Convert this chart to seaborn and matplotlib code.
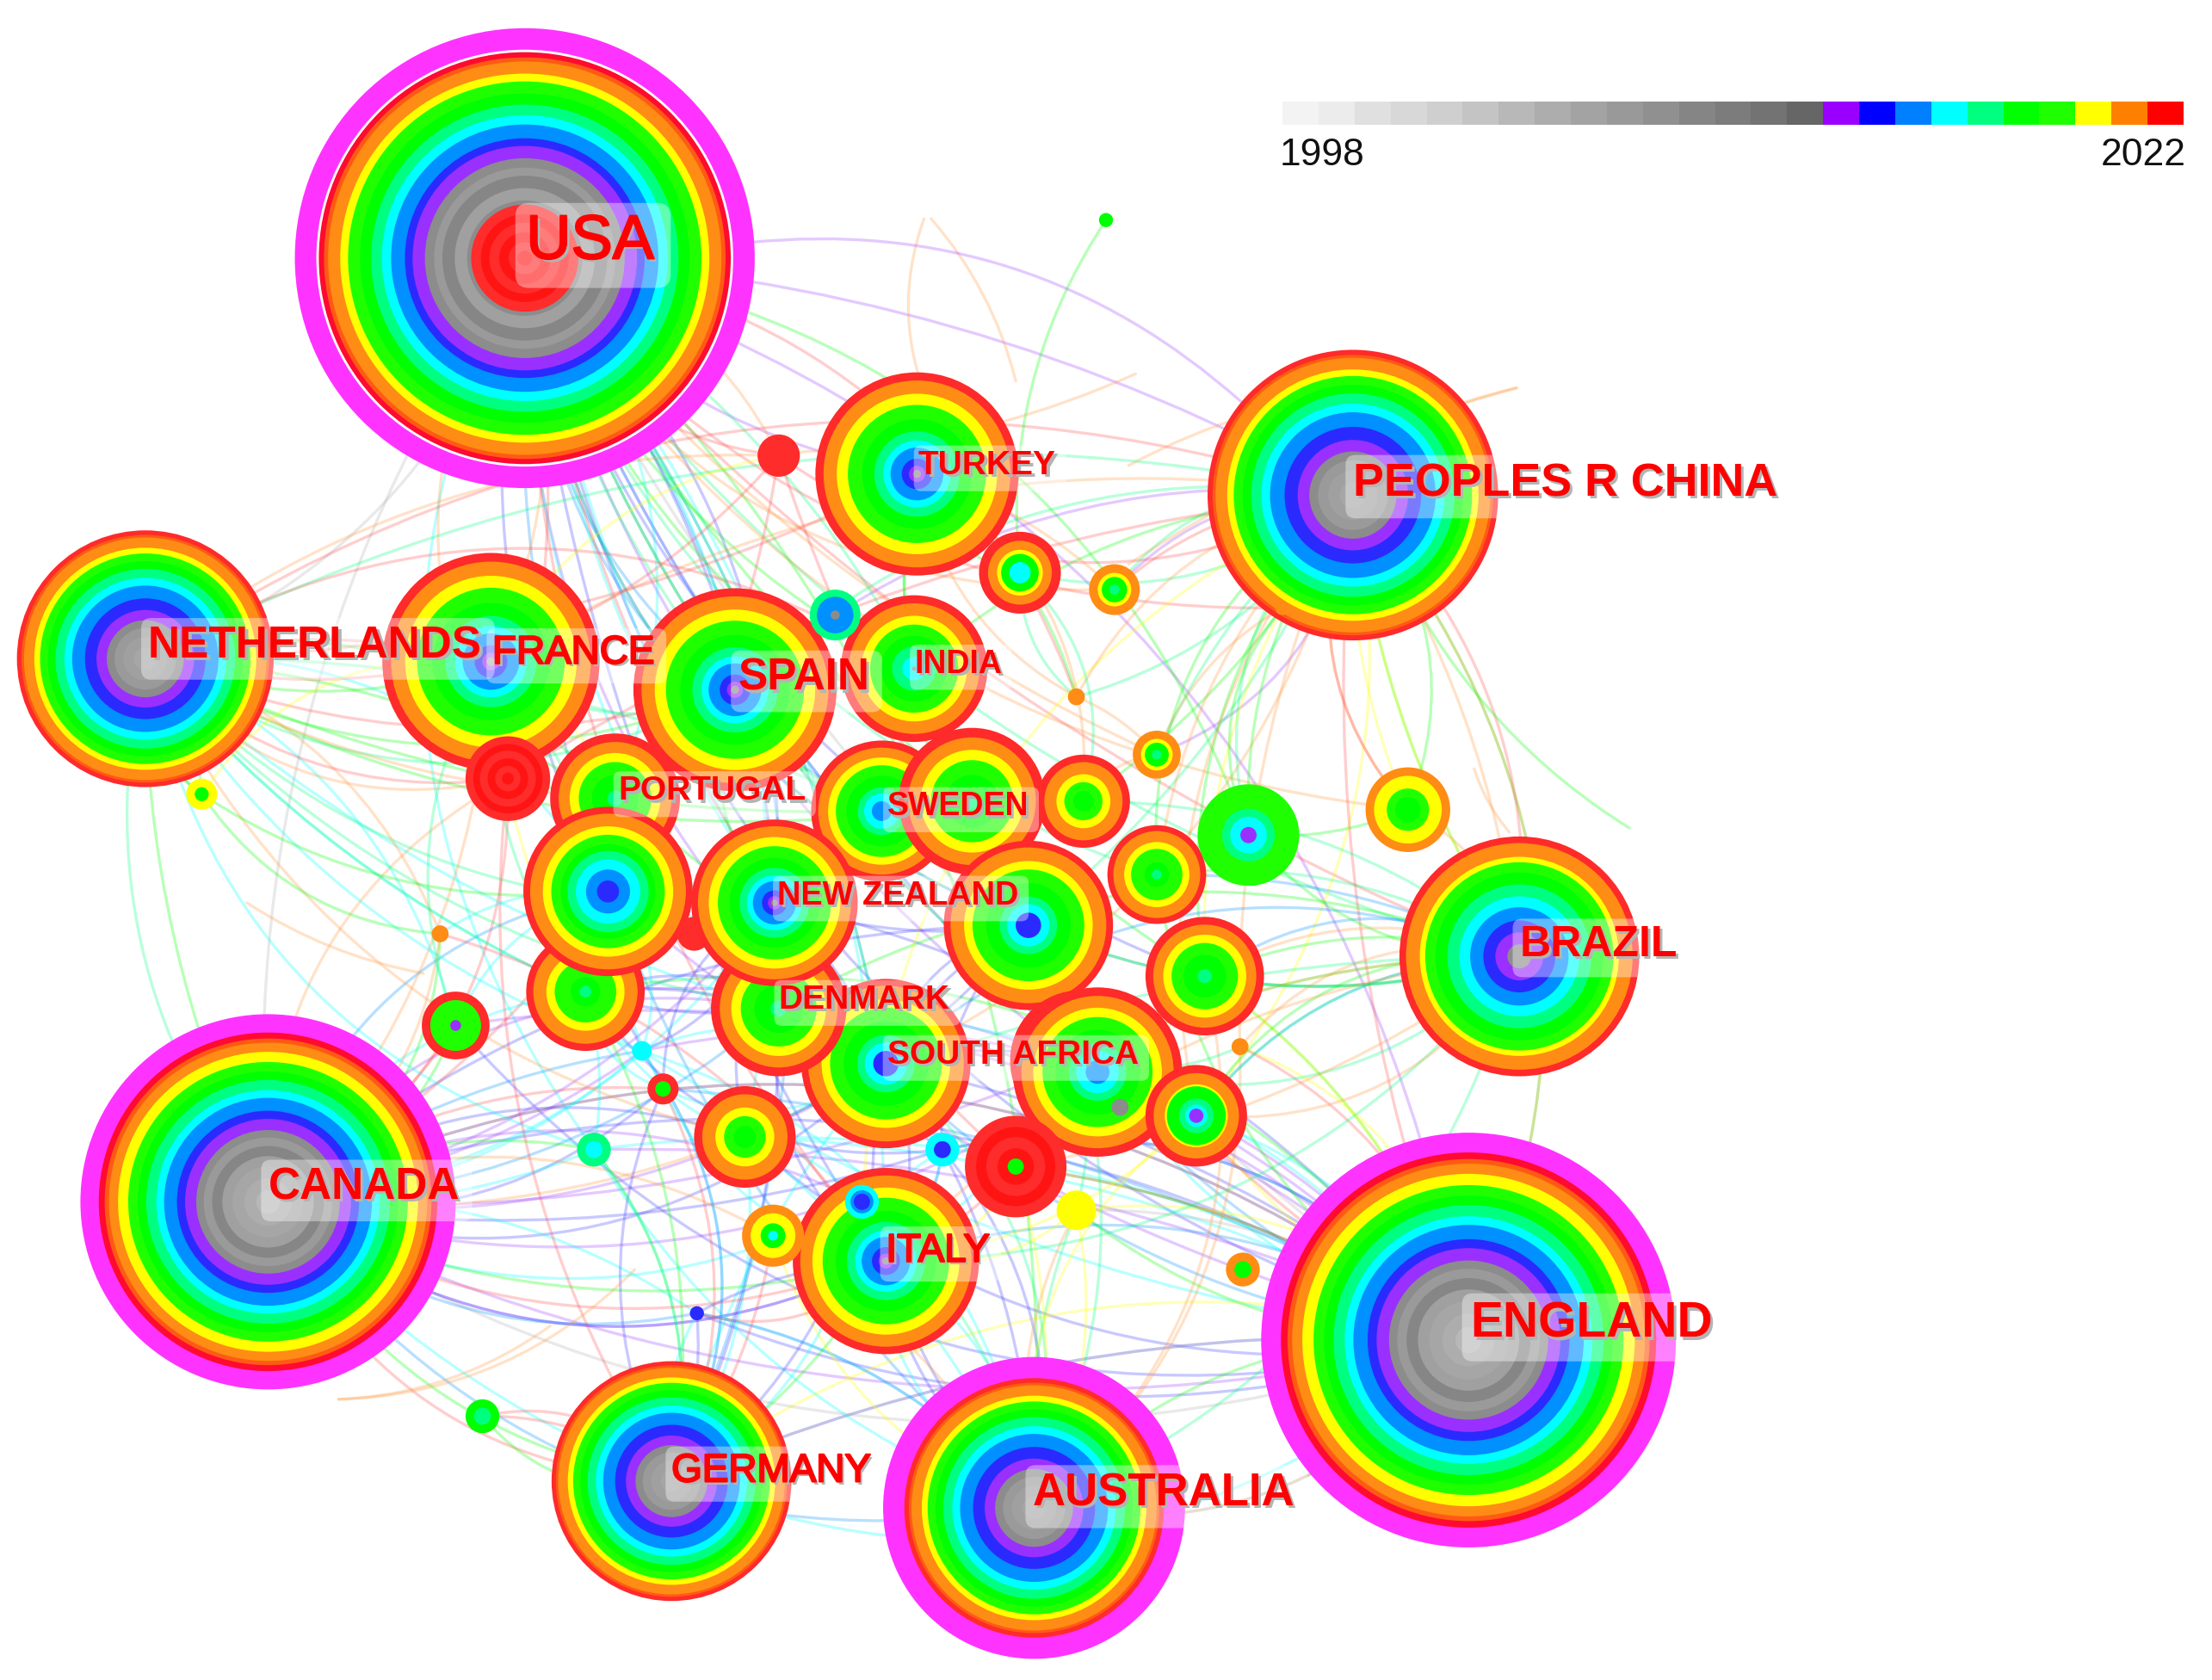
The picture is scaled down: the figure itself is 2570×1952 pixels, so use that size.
import numpy as np
import pandas as pd
import seaborn as sns
import matplotlib
matplotlib.use("Agg")
import matplotlib.pyplot as plt
import matplotlib.patheffects as pe
from matplotlib.colors import ListedColormap
from matplotlib.patches import FancyArrowPatch

# scale of the coordinates below vs the saved image
PX = 2570 / 1568

years = list(range(1998, 2023))
year_colours = ["#f3f3f3", "#ececec", "#e0e0e0", "#d8d8d8", "#cfcfcf", "#c4c4c4", "#b8b8b8", "#adadad",
                "#a3a3a3", "#999999", "#909090", "#858585", "#7c7c7c", "#737373", "#666666",
                "#9900ff", "#0000ff", "#0080ff", "#00ffff", "#00ff80", "#00ff00", "#20ff00",
                "#ffff00", "#ff8000", "#ff0000"]

# nodes, drawn in this order
node_id = ["usa", "eng", "can", "aus", "chn", "bra", "ned", "fra", "esp", "ind", "tur", "ger",
           "por", "n1", "swe", "n5", "n4", "den", "n2", "n3", "n38", "nzl", "n21", "zaf", "ita",
           "n6", "n7", "n8", "n9", "n10", "n11", "n12", "n13", "n14", "n15", "n16", "n17",
           "n18", "n19", "n20", "usa_c", "n22", "n23", "n24", "n25", "n26", "n27", "n28",
           "n29", "n30", "n31", "n32", "n33", "n34", "n35", "n36", "n37", "n39"]
node_x = [372, 1041, 190, 733, 959, 1077, 103, 348, 521, 648, 650, 476,
          436, 625, 689, 415, 628, 552, 431, 729, 492, 549, 766, 778, 628,
          768, 820, 854, 848, 528, 323, 723, 790, 552, 592, 360, 143,
          820, 885, 998, 372, 909, 763, 312, 879, 784, 455, 470,
          421, 668, 720, 763, 611, 548, 881, 494, 342, 794]
node_y = [183, 950, 852, 1069, 351, 678, 467, 469, 489, 474, 336, 1050,
          566, 575, 568, 703, 754, 715, 632, 656, 662, 640, 752, 760, 894,
          568, 620, 692, 791, 806, 727, 406, 418, 323, 436, 552, 563,
          535, 592, 574, 183, 431, 494, 662, 742, 156, 745, 772,
          815, 815, 827, 858, 852, 876, 900, 931, 1004, 785]
node_r = [146, 133, 120, 92, 103, 85, 91, 77, 72, 52, 72, 85,
          46, 50, 52, 42, 60, 48, 60, 60, 12, 59, 50, 60, 66,
          33, 35, 42, 36, 36, 24, 29, 18, 15, 18, 30, 11,
          17, 36, 30, 38, 5, 6, 6, 6, 5, 7, 11,
          12, 12, 36, 14, 12, 22, 12, 5, 12, 6]
node_burst = {"usa": 163, "eng": 147, "can": 133, "aus": 107}
node_profile = ["usa", "y98", "y98", "y03", "y03", "y11", "y03", "y13", "y13", "y15", "y13", "y03",
                "y16", "y15b", "y16", "y17", "y14b", "y16", "y14", "y14b", "flat_r", "y13", "y15b", "y15b", "y13",
                "y18", "y17", "y16", "y_v", "y18", "y_v2", "y_c", "o_g", "flat_r", "s_a", "reds", "y_g",
                "o_g", "g_v", "o_y_g", "reds", "flat_o", "flat_o", "flat_o", "flat_o", "flat_g", "flat_c", "r_g",
                "s_c", "c_b", "reds_g", "flat_y", "c_b2", "o_y_c", "o_g2", "flat_b", "g_s", "flat_gr"]

ring_profiles = {
    "usa": [("gap", 1.012), ("r3", 1), ("ro", .975), ("2021", .955), ("2020", .896), ("2019", .858), ("2018", .80),
            ("2017", .746), ("2016", .694), ("2015", .649), ("2014", .582), ("2013", .545), ("g1", .485),
            ("g2", .44), ("g4", .40), ("g3", .34), ("g1", .28)],
    "y98": [("r3", 1), ("ro", .965), ("2021", .94), ("2020", .886), ("2019", .826), ("2018", .77), ("2017", .72),
            ("2016", .66), ("2015", .614), ("2014", .538), ("2013", .49), ("g1", .424), ("g2", .38),
            ("g4", .33), ("g3", .27), ("g5", .21), ("g6", .14), ("g7", .07)],
    "y03": [("2022", 1), ("ro", .965), ("2021", .945), ("2020", .865), ("2019", .82), ("2018", .76), ("2017", .70),
            ("2016", .63), ("2015", .57), ("2014", .47), ("2013", .38), ("g1", .30), ("g2", .24),
            ("g3", .17), ("g5", .09)],
    "y11": [("2022", 1), ("2021", .945), ("2020", .83), ("2019", .785), ("2018", .70), ("2017", .60),
            ("2016", .50), ("2015", .41), ("2014", .30), ("2013", .20), ("g1", .10)],
    "y13": [("2022", 1), ("2021", .92), ("2020", .79), ("2019", .68), ("2018", .54), ("2017", .42),
            ("2016", .33), ("2015", .26), ("2014", .15), ("2013", .08), ("g1", .04)],
    "y14": [("2022", 1), ("2021", .92), ("2020", .77), ("2019", .67), ("2018", .56), ("2017", .48),
            ("2016", .38), ("2015", .26), ("2014", .13)],
    "y14b": [("2022", 1), ("2021", .92), ("2020", .76), ("2019", .66), ("2018", .50), ("2017", .34),
             ("2016", .25), ("2014", .15)],
    "y15": [("2022", 1), ("2021", .89), ("2020", .72), ("2019", .60), ("2018", .45), ("2017", .30),
            ("2016", .16), ("g1", .03)],
    "y15b": [("2022", 1), ("2021", .90), ("2020", .76), ("2019", .65), ("2018", .50), ("2017", .34),
             ("2016", .25), ("2015", .14)],
    "y16": [("2022", 1), ("2021", .87), ("2020", .70), ("2019", .56), ("2018", .36), ("2017", .12)],
    "y17": [("2022", 1), ("2021", .88), ("2020", .66), ("2019", .52), ("2018", .25), ("2017", .10)],
    "y18": [("2022", 1), ("2021", .84), ("2020", .58), ("2019", .41), ("2018", .22)],
    "y_v": [("2022", 1), ("2021", .84), ("2020", .62), ("2018", .58), ("2017", .34), ("2016", .22), ("2013", .14)],
    "y_v2": [("2022", 1), ("2019", .75), ("2013", .16)],
    "y_c": [("2022", 1), ("2021", .78), ("2020", .56), ("2018", .46), ("2016", .26)],
    "o_g": [("2021", 1), ("2020", .66), ("2018", .50), ("2017", .20)],
    "o_g2": [("2021", 1), ("2018", .50)],
    "o_y_g": [("2021", 1), ("2020", .80), ("2019", .50), ("2018", .30)],
    "o_y_c": [("2021", 1), ("2020", .72), ("2018", .40), ("2016", .16)],
    "y_g": [("2020", 1), ("2018", .45)],
    "g_v": [("2019", 1), ("2017", .52), ("2016", .36), ("2013", .16)],
    "s_a": [("2017", 1), ("2015", .72), ("g1", .18)],
    "reds": [("r2", 1), ("r1", .82), ("r2", .66), ("r1", .48), ("r2", .30), ("r1", .14)],
    "reds_g": [("r2", 1), ("r1", .78), ("r2", .58), ("r1", .36), ("2018", .16)],
    "r_g": [("2022", 1), ("2018", .50)],
    "s_c": [("2017", 1), ("2016", .50)],
    "c_b": [("2016", 1), ("2014", .50)],
    "c_b2": [("2016", 1), ("2015", .68), ("2014", .48)],
    "g_s": [("2018", 1), ("2017", .50)],
    "flat_r": [("r2", 1)],
    "flat_o": [("2021", 1)],
    "flat_g": [("2018", 1)],
    "flat_c": [("2016", 1)],
    "flat_y": [("2020", 1)],
    "flat_b": [("2014", 1)],
    "flat_gr": [("g1", 1)],
}

# links: source, year of first co-occurrence, targets
links = [
    ("usa", 2013, ["chn", "tur", "n4", "eng", "zaf", "n21"]),
    ("usa", 2014, ["n2", "nzl", "n3", "ita", "den", "n8", "eng"]),
    ("usa", 2015, ["esp", "n1", "n4", "n9", "aus", "ger", "zaf"]),
    ("usa", 2016, ["por", "nzl", "den", "n10", "n29", "n30", "ita"]),
    ("usa", 2017, ["esp", "swe", "n7", "n3", "n4", "bra"]),
    ("usa", 2018, ["ind", "n6", "n19", "n8", "n9", "aus"]),
    ("usa", 2021, ["n14", "n16", "n18", "fra", "n20", "n13"]),
    ("usa", 2022, ["n14", "n16", "n31", "n22", "n23", "bra", "ita"]),
    ("usa", 2010, ["eng", "can", "ned"]),
    ("eng", 2013, ["can", "n11", "n27", "n2", "den", "n5", "aus", "n29"]),
    ("eng", 2014, ["can", "n11", "n4", "nzl", "n10", "n30", "ger", "n36"]),
    ("eng", 2015, ["can", "n28", "n4", "ita", "n30", "n21"]),
    ("eng", 2016, ["n27", "n29", "den", "ger", "n10", "n9", "n3"]),
    ("eng", 2018, ["n8", "n7", "chn", "n31", "n32", "aus", "n5"]),
    ("eng", 2020, ["n32", "n25", "n9", "n8", "ger", "aus"]),
    ("eng", 2010, ["aus", "ger", "n32", "can"]),
    ("eng", 2022, ["n31", "n14", "n25", "can"]),
    ("can", 2013, ["n4", "zaf", "den", "n27", "nzl", "n33", "ita", "n21"]),
    ("can", 2014, ["n10", "n4", "n30", "n3", "n28", "ita"]),
    ("can", 2015, ["aus", "n27", "den", "n36", "n2"]),
    ("can", 2016, ["n29", "n27", "n5", "n30", "ger", "n36", "nzl"]),
    ("can", 2018, ["n29", "n11", "n24", "ned", "ita", "ger"]),
    ("can", 2021, ["n24", "n16", "n10", "fra", "n34"]),
    ("can", 2022, ["n16", "n11", "n28", "n14", "ger"]),
    ("aus", 2014, ["ita", "n36", "n30", "n4", "n30"]),
    ("aus", 2016, ["n36", "n33", "n27", "n10", "n29", "ita"]),
    ("aus", 2017, ["n3", "n4", "n32", "n33", "bra"]),
    ("aus", 2020, ["n9", "n31", "n32", "n34"]),
    ("aus", 2021, ["n34", "n32", "n25", "n8"]),
    ("chn", 2013, ["n15", "n13", "n18"]),
    ("chn", 2017, ["n12", "n13", "n18", "n23", "esp", "n19", "n3", "ned"]),
    ("chn", 2018, ["n7", "n6", "n19", "n8", "n20", "bra", "ind", "n22"]),
    ("chn", 2020, ["bra", "n8", "n9", "n33", "n20"]),
    ("chn", 2021, ["n22", "n23", "n20", "bra", "n7", "n9", "eng", "n25", "fra", "n4"]),
    ("chn", 2022, ["ned", "n14", "n16", "n13", "bra", "n20", "eng"]),
    ("bra", 2015, ["n8", "n7", "n3", "n9", "n4"]),
    ("bra", 2017, ["n8", "n7", "n9", "n21", "n10", "n6", "ita"]),
    ("bra", 2018, ["n8", "n19", "n9", "n21", "n3", "den"]),
    ("bra", 2021, ["n8", "n25", "n31", "ita", "n20", "n9", "n21"]),
    ("ned", 2016, ["n2", "n5", "n27", "n11", "n29", "den"]),
    ("ned", 2017, ["n5", "n17", "nzl", "esp", "n1", "den", "can"]),
    ("ned", 2018, ["fra", "esp", "por", "n1", "swe", "n4", "n17"]),
    ("ned", 2021, ["n24", "n16", "por", "n14", "n10"]),
    ("ned", 2022, ["n14", "fra", "esp", "n16", "ind", "tur"]),
    ("ger", 2014, ["n36", "n33", "n28", "n27", "den"]),
    ("ger", 2016, ["n36", "n29", "n27", "n4", "n10", "n33"]),
    ("ger", 2018, ["n29", "n37", "ita", "n5"]),
    ("ger", 2022, ["n37", "n34", "n16", "n28"]),
    ("ita", 2014, ["n33", "n30", "n4", "den", "n36"]),
    ("ita", 2016, ["n30", "n28", "n10", "n21"]),
    ("ita", 2020, ["n32", "n31", "n34", "n9"]),
    ("ita", 2022, ["n36", "n31", "n24", "can"]),
    ("n4", 2014, ["nzl", "n3", "n30", "n5", "n21"]),
    ("n4", 2016, ["den", "n27", "n28", "n30", "n2"]),
    ("n5", 2014, ["n27", "n30", "den", "n4"]),
    ("n5", 2016, ["n28", "n29", "n10", "n27"]),
    ("nzl", 2014, ["n3", "n10", "n27", "n28"]),
    ("n3", 2014, ["n21", "n30", "n4", "n10"]),
    ("n2", 2016, ["n11", "n27", "n28", "n24"]),
    ("tur", 2018, ["n12", "ind", "n23", "n3"]),
    ("tur", 2021, ["n13", "n14", "n23", "n6"]),
    ("n26", 2018, ["n12"]),
    ("n21", 2017, ["n9", "n8", "n32", "n25"]),
    ("n19", 2018, ["n22", "n20", "n7"]),
    ("n18", 2021, ["n23", "n22", "n6"]),
    ("n17", 2018, ["n2", "n24", "ned"]),
    ("fra", 2020, ["n14", "n17", "n5", "por"]),
    ("fra", 2017, ["esp", "n2", "n5", "n11"]),
    ("esp", 2018, ["ind", "n1", "n15", "nzl"]),
    ("n37", 2022, ["ger"]),
    ("n12", 2017, ["n23", "n6"]),
]

# arcs whose far end has no drawn node
arc_x0 = [1010, 800, 655, 660, 240, 240, 175, 530, 600, 1045, 1000, 980, 1110]
arc_y0 = [440, 400, 155, 155, 992, 992, 640, 172, 320, 545, 300, 275, 600]
arc_x1 = [1155, 1075, 660, 720, 390, 450, 300, 880, 805, 1070, 1075, 800, 1150]
arc_y1 = [587, 275, 290, 270, 940, 900, 690, 285, 265, 590, 275, 330, 640]
arc_year = [2018, 2021, 2021, 2021, 2021, 2021, 2021, 2013, 2021, 2021, 2021, 2021, 2018]
arc_rad = [0.12, -0.08, 0.2, -0.12, 0.15, 0.2, 0.1, -0.22, 0.08, 0.1, -0.05, 0.1, 0.1]

label_text = ["USA", "PEOPLES R CHINA", "ENGLAND", "CANADA", "AUSTRALIA", "NETHERLANDS", "BRAZIL", "SPAIN",
              "FRANCE", "GERMANY", "ITALY", "TURKEY", "INDIA", "PORTUGAL", "SWEDEN", "NEW ZEALAND",
              "DENMARK", "SOUTH AFRICA"]
label_x = [373, 959, 1042, 190, 732, 105, 1077, 523, 349, 476, 628, 651, 648, 438, 629, 551, 552, 629]
label_y = [172, 343, 939, 842, 1059, 458, 670, 481, 463, 1043, 887, 330, 471, 561, 572, 635, 709, 748]
label_size = [52, 38.7, 41, 37, 38, 37, 36, 37, 33, 33, 33, 28, 27, 28, 27, 27.4, 28, 28]
label_weight = ["normal", "bold", "bold", "bold", "bold", "bold", "bold", "bold", "normal", "normal", "normal",
                "bold", "bold", "bold", "bold", "bold", "bold", "bold"]

sns.set_theme(style="white")
plt.rcParams["font.family"] = ["Liberation Sans", "DejaVu Sans"]

palette = {str(y): c for y, c in zip(years, year_colours)}
palette.update({"2022": "#ff2a2a", "2021": "#ff8c14", "2014": "#2a2aff", "2013": "#9a30ff", "2015": "#0090ff",
                "burst": "#ff33ff", "gap": "#ffffff", "r1": "#ff1414", "r2": "#ff2c2c", "r3": "#ff0a30",
                "ro": "#ff5a14", "g1": "#8c8c8c", "g2": "#9a9a9a", "g3": "#a0a0a0", "g4": "#868686",
                "g5": "#a6a6a6", "g6": "#adadad", "g7": "#b8b8b8"})
link_colours = dict(palette)
link_colours.update({"2010": "#b0b0b0", "2022": "#ff5050", "2021": "#ff9a40", "2014": "#4040ff", "2013": "#a040ff"})

fig = plt.figure(figsize=(25.7, 19.52), dpi=100)
ax = fig.add_axes([0, 0, 1, 1])
ax.set_xlim(0, 1568)
ax.set_ylim(1191, 0)
ax.axis("off")

# links under the nodes
pos = dict(zip(node_id, zip(node_x, node_y)))
for i, (src, year, targets) in enumerate(links):
    for j, tgt in enumerate(targets):
        rad = (0.12 + 0.06 * ((i + j) % 4)) * (1 if (i + 2 * j) % 3 else -1)
        ax.add_patch(FancyArrowPatch(pos[src], pos[tgt], arrowstyle="-", connectionstyle=f"arc3,rad={rad}",
                                     color=link_colours[str(year)], lw=2.4, alpha=0.28, shrinkA=0, shrinkB=0,
                                     zorder=1))
for x0, y0, x1, y1, year, rad in zip(arc_x0, arc_y0, arc_x1, arc_y1, arc_year, arc_rad):
    ax.add_patch(FancyArrowPatch((x0, y0), (x1, y1), arrowstyle="-", connectionstyle=f"arc3,rad={rad}",
                                 color=link_colours[str(year)], lw=2.4, alpha=0.28, shrinkA=0, shrinkB=0, zorder=1))

# each node is a stack of rings, biggest first
rows = []
for nid, x, y, r, prof in zip(node_id, node_x, node_y, node_r, node_profile):
    if nid in node_burst:
        rows.append((x, y, node_burst[nid], "burst"))
    for ring, frac in ring_profiles[prof]:
        rows.append((x, y, r * frac, ring))
rings = pd.DataFrame(rows, columns=["x", "y", "radius", "ring"])
ring_sizes = (2 * rings["radius"] * PX * 72 / 100) ** 2
sns.scatterplot(data=rings, x="x", y="y", hue="ring", palette=palette, s=ring_sizes.values, linewidth=0,
                alpha=1, legend=False, ax=ax, zorder=3)
ax.set_xlabel("")
ax.set_ylabel("")

for txt, x, y, size, weight in zip(label_text, label_x, label_y, label_size, label_weight):
    ax.text(x + 2, y + 2, txt, fontsize=size, fontweight=weight, color="#b4b4b4", ha="left", va="center", zorder=4,
            bbox=dict(boxstyle="round,pad=0.22", fc="white", ec="none", alpha=0.38))
    main = ax.text(x, y, txt, fontsize=size, fontweight=weight, color="#ff0000", ha="left", va="center", zorder=5)
    if weight == "normal":
        # these labels read heavier than plain regular in the original
        main.set_path_effects([pe.withStroke(linewidth=1.6, foreground="#ff0000")])

# year strip
cax = fig.add_axes([1490 / 2570, 1 - 145 / 1952, 1047 / 2570, 27 / 1952])
sns.heatmap(np.array(years).reshape(1, -1), cmap=ListedColormap(year_colours), cbar=False, xticklabels=False,
            yticklabels=False, ax=cax)
cax.set_xlabel("")
cax.set_ylabel("")
fig.text(1487 / 2570, 1 - 181 / 1952, str(years[0]), fontsize=32, color="#111111", ha="left", va="center")
fig.text(2540 / 2570, 1 - 181 / 1952, str(years[-1]), fontsize=32, color="#111111", ha="right", va="center")

fig.savefig("out.png", dpi=100, facecolor="white")
